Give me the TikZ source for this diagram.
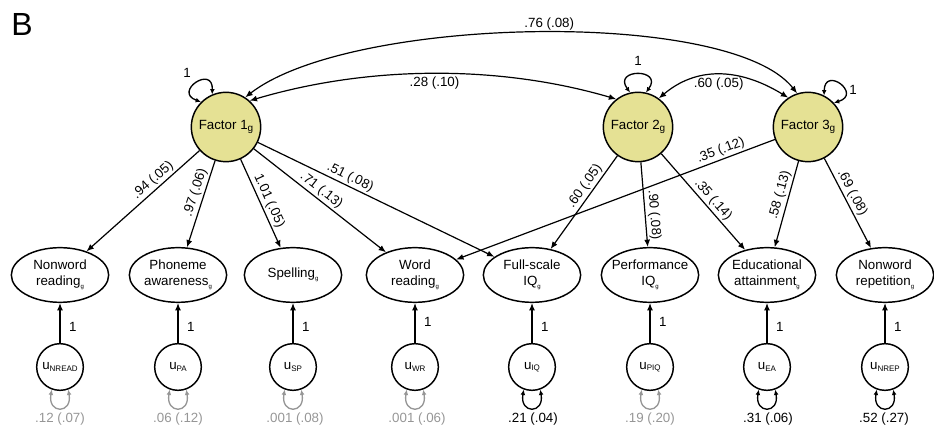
\documentclass[tikz,border=0pt]{standalone}
\usepackage{fontspec}
\setmainfont{Liberation Sans}
\usetikzlibrary{arrows.meta,shapes.geometric}
\definecolor{facfill}{RGB}{229,225,148}
\definecolor{lgray}{RGB}{150,150,150}
\newcommand\gsub{\raisebox{-2.2pt}{\fontsize{4.5}{5}\selectfont g}}
\newcommand\fsub{\raisebox{-2pt}{\fontsize{7.5}{8}\selectfont g}}
\newcommand\usub[1]{u\raisebox{-1pt}{\fontsize{6}{6}\selectfont #1}}
\begin{document}
\begin{tikzpicture}[x=0.75pt,y=0.75pt,
  every node/.style={font=\fontsize{10}{12}\selectfont},
  factor/.style={circle, draw, line width=1.1pt, fill=facfill, minimum size=52pt, inner sep=0pt},
  obs/.style={ellipse, draw, line width=1.1pt, minimum width=73pt, minimum height=41pt, inner xsep=-5pt, inner ysep=0pt, align=center},
  err/.style={circle, draw, line width=1.1pt, minimum size=35pt, inner sep=0pt},
  ldarrow/.style={line width=0.9pt, -{Latex[length=5.5pt,width=4.5pt]}},
  cov/.style={line width=0.9pt, {Latex[length=5.5pt,width=4.5pt]}-{Latex[length=5.5pt,width=4.5pt]}},
  sloop/.style={line width=1pt, {Latex[length=4pt,width=3.6pt]}-{Latex[length=4pt,width=3.6pt]}},
  plab/.style={sloped, above, inner sep=1.5pt},
  onelab/.style={right=3pt},
]
\useasboundingbox (0,0) rectangle (934,431);

\node[font=\fontsize{24}{24}\selectfont] (B) at (22,406) {B};

% factors
\node[factor] (f1) at (226,304) {Factor 1\fsub};
\node[factor] (f2) at (638,304) {Factor 2\fsub};
\node[factor] (f3) at (808,304) {Factor 3\fsub};

% observed
\node[obs] (nr)   at (60,156)  {Nonword\\reading\gsub};
\node[obs] (pa)   at (178,156) {Phoneme\\awareness\gsub};
\node[obs] (sp)   at (293,156) {Spelling\gsub};
\node[obs] (wr)   at (415,156) {Word\\reading\gsub};
\node[obs] (iq)   at (532,156) {Full-scale\\IQ\gsub};
\node[obs] (piq)  at (650,156) {Performance\\IQ\gsub};
\node[obs] (ea)   at (767,156) {Educational\\attainment\gsub};
\node[obs] (nrep) at (885,156) {Nonword\\repetition\gsub};

% errors
\node[err] (unr)   at (60,64)  {\usub{NREAD}};
\node[err] (upa)   at (178,64) {\usub{PA}};
\node[err] (usp)   at (293,64) {\usub{SP}};
\node[err] (uwr)   at (415,64) {\usub{WR}};
\node[err] (uiq)   at (532,64) {\usub{IQ}};
\node[err] (upiq)  at (650,64) {\usub{PIQ}};
\node[err] (uea)   at (767,64) {\usub{EA}};
\node[err] (unrep) at (885,64) {\usub{NREP}};

% error paths
\draw[ldarrow] (unr) -- node[pos=0.4, onelab] {1} (nr);
\draw[ldarrow] (upa) -- node[pos=0.4, onelab] {1} (pa);
\draw[ldarrow] (usp) -- node[pos=0.4, onelab] {1} (sp);
\draw[ldarrow] (uwr) -- node[pos=0.52, onelab] {1} (wr);
\draw[ldarrow] (uiq) -- node[pos=0.4, onelab] {1} (iq);
\draw[ldarrow] (upiq) -- node[pos=0.52, onelab] {1} (piq);
\draw[ldarrow] (uea) -- node[pos=0.4, onelab] {1} (ea);
\draw[ldarrow] (unrep) -- node[pos=0.4, onelab] {1} (nrep);

% loadings
\draw[ldarrow] (f1) -- node[plab, pos=0.36] {.94 (.05)} (nr);
\draw[ldarrow] (f1) -- node[plab, pos=0.40] {.97 (.06)} (pa);
\draw[ldarrow] (f1) -- node[plab, pos=0.51] {1.01 (.05)} (sp);
\draw[ldarrow] (f1) -- node[plab, pos=0.47] {.71 (.13)} (wr);
\draw[ldarrow] (f1) -- node[plab, pos=0.374] {.51 (.08)} (iq);
\draw[ldarrow] (f2) -- node[plab, pos=0.38] {.60 (.05)} (iq);
\draw[ldarrow] (f2) -- node[plab, pos=0.63] {.90 (.08)} (piq);
\draw[ldarrow] (f2) -- node[plab, pos=0.54] {.35 (.14)} (ea);
\draw[ldarrow] (f3) -- node[plab, pos=0.16] {.35 (.12)} (wr);
\draw[ldarrow] (f3) -- node[plab, pos=0.42] {.58 (.13)} (ea);
\draw[ldarrow] (f3) -- node[plab, pos=0.43] {.69 (.08)} (nrep);

% covariances
\draw[cov] (f1.57) .. controls (350,415) and (730,423) .. node[pos=0.52, above, inner sep=1.5pt] {.76 (.08)} (f3.108);
\draw[cov] (f1.48) .. controls (370,366) and (500,366) .. node[pos=0.5, below, inner sep=2pt] {.28 (.10)} (f2.128);
\draw[cov] (f2.54) .. controls (696,364) and (738,364) .. node[pos=0.5, below, inner sep=2pt] {.60 (.05)} (f3.124);

% factor variances
\draw[sloop] (f1.135) .. controls +(160:30) and +(88:30) .. (f1.113);
\draw[sloop] (f2.103) .. controls +(126:30) and +(54:30) .. (f2.77);
\draw[sloop] (f3.63) .. controls +(89:30) and +(17:30) .. (f3.43);
\node (v1) at (187,358) {1};
\node (v2) at (638,370) {1};
\node (v3) at (853,341) {1};

% error variances
\draw[sloop, lgray] (unr.-110) .. controls +(-100:25) and +(-80:25) .. (unr.-70);
\draw[sloop, lgray] (upa.-110) .. controls +(-100:25) and +(-80:25) .. (upa.-70);
\draw[sloop, lgray] (usp.-110) .. controls +(-100:25) and +(-80:25) .. (usp.-70);
\draw[sloop, lgray] (uwr.-110) .. controls +(-100:25) and +(-80:25) .. (uwr.-70);
\draw[sloop] (uiq.-110) .. controls +(-100:25) and +(-80:25) .. (uiq.-70);
\draw[sloop, lgray] (upiq.-110) .. controls +(-100:25) and +(-80:25) .. (upiq.-70);
\draw[sloop] (uea.-110) .. controls +(-100:25) and +(-80:25) .. (uea.-70);
\draw[sloop] (unrep.-110) .. controls +(-100:25) and +(-80:25) .. (unrep.-70);

\node[text=lgray] (enr)   at (60,12)  {.12 (.07)};
\node[text=lgray] (epa)   at (178,12) {.06 (.12)};
\node[text=lgray] (esp)   at (295,12) {.001 (.08)};
\node[text=lgray] (ewr)   at (417,12) {.001 (.06)};
\node             (eiq)   at (533,12) {.21 (.04)};
\node[text=lgray] (epiq)  at (650,12) {.19 (.20)};
\node             (eea)   at (768,12) {.31 (.06)};
\node             (enrep) at (884,12) {.52 (.27)};
\end{tikzpicture}
\end{document}
